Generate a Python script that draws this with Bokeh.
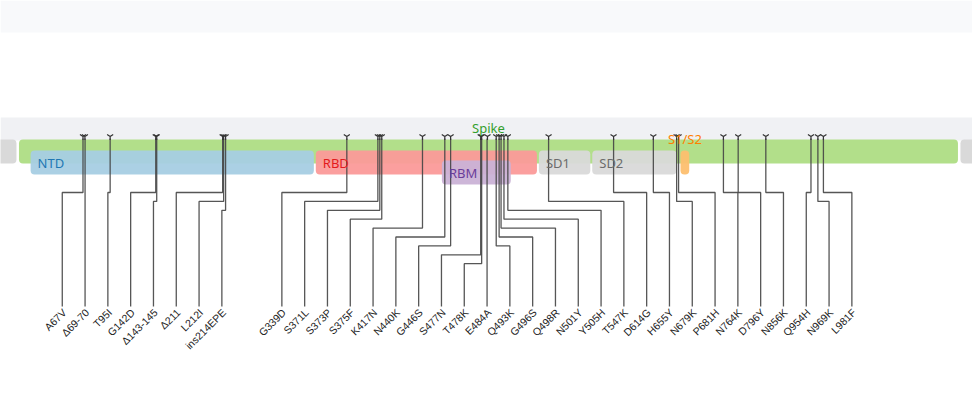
import numpy as np
from bokeh.plotting import figure
from bokeh.models import Range1d
from bokeh.core.properties import value
from bokeh.embed import file_html
from bokeh.resources import INLINE

# ---------------- data ----------------
spike_length = 1273
mut_labels = ["A67V", "Δ69-70", "T95I", "G142D", "Δ143-145", "Δ211", "L212I", "ins214EPE",
              "G339D", "S371L", "S373P", "S375F", "K417N", "N440K", "G446S", "S477N", "T478K",
              "E484A", "Q493K", "G496S", "Q498R", "N501Y", "Y505H", "T547K", "D614G", "H655Y",
              "N679K", "P681H", "N764K", "D796Y", "N856K", "Q954H", "N969K", "L981F"]
mut_pos = [67, 69, 95, 142, 143, 211, 212, 214,
           339, 371, 373, 375, 417, 440, 446, 477, 478,
           484, 493, 496, 498, 501, 505, 547, 614, 655,
           679, 681, 764, 796, 856, 954, 969, 981]
domain_names = ["NTD", "RBD", "RBM", "SD1", "SD2", "S1/S2"]
domain_start = [13, 307, 437, 537, 592, 683]
domain_end = [305, 535, 508, 590, 679, 692]
domain_fill = ["#a6cee3", "#fb9a99", "#cab2d6", "#d9d9d9", "#d9d9d9", "#fdbf6f"]
domain_text = ["#1f78b4", "#e31a1c", "#6a3d9a", "#6b6b6b", "#6b6b6b", "#ff7f00"]

# ---------------- scale (S2 drawn compressed) ----------------
S1_LINEAR_END = 694
S2_COMPRESS = 0.475
PX_PER_UNIT = 0.97
W, H = 972, 412


def track_pos(aa):
    aa = np.asarray(aa, dtype=float)
    return np.where(aa <= S1_LINEAR_END, aa,
                    S1_LINEAR_END + (aa - S1_LINEAR_END) * S2_COMPRESS)


x_start = -17.5 / PX_PER_UNIT
x_end = x_start + W / PX_PER_UNIT
px = 1.0 / PX_PER_UNIT  # one screen pixel in track units

# vertical layout (screen-like units, top = 0)
BAND_TOP, BAND_BOT = 117, 140
GENE_TOP, GENE_BOT = 139, 163
DOM_TOP, DOM_BOT = 150, 174
ROW_SHIFT = 10
ELBOW0, ELBOW_STEP = 192, 8.9
LINE_END = 306
LABEL_Y = 310
LABEL_GAP = 22.8 * px       # spacing of neighbouring labels
GROUP_GAP = 60 * px         # spacing between well separated groups
GROUP_BREAK = 100 * px      # marker distance that starts a new group


def place_labels(ideal, gaps):
    """least-squares placement with minimum gaps (isotonic regression / PAV)."""
    c = np.concatenate([[0.0], np.cumsum(gaps)])
    z = ideal - c
    blocks = []
    for i, v in enumerate(z):
        blocks.append([v, 1, [i]])
        while len(blocks) > 1 and blocks[-2][0] / blocks[-2][1] > blocks[-1][0] / blocks[-1][1]:
            b = blocks.pop()
            blocks[-1][0] += b[0]
            blocks[-1][1] += b[1]
            blocks[-1][2] += b[2]
    y = np.empty(len(z))
    for s, cnt, mem in blocks:
        y[mem] = s / cnt
    return y + c


marker_u = track_pos(mut_pos)
n = len(mut_pos)
gaps = np.where(np.diff(marker_u) > GROUP_BREAK, GROUP_GAP, LABEL_GAP)
label_u = place_labels(marker_u, gaps)
shift = label_u - marker_u
direction = np.where(np.abs(shift) < 1.5 * px, 0, np.sign(shift)).astype(int)

# elbow levels so that leader lines do not cross
levels = np.zeros(n, dtype=int)
for j in range(n):
    if direction[j] < 0:
        lv = 0
        for i in range(j):
            if direction[i] < 0 and (label_u[i] <= label_u[j] <= marker_u[i]
                                     or label_u[j] <= marker_u[i] <= marker_u[j]):
                lv = max(lv, levels[i] + 1)
        levels[j] = lv
for j in reversed(range(n)):
    if direction[j] > 0:
        lv = 0
        for i in range(j + 1, n):
            if direction[i] > 0 and (marker_u[i] <= label_u[j] <= label_u[i]
                                     or marker_u[j] <= marker_u[i] <= label_u[j]):
                lv = max(lv, levels[i] + 1)
        levels[j] = lv

xs, ys = [], []
for m, l, d, lev in zip(marker_u, label_u, direction, levels):
    if d == 0:
        xs.append([l, l])
        ys.append([GENE_TOP - 1, LINE_END])
    else:
        yy = ELBOW0 + ELBOW_STEP * lev
        xs.append([m, m, l, l])
        ys.append([GENE_TOP - 1, yy, yy, LINE_END])

# ---------------- figure ----------------
p = figure(width=W, height=H, output_backend="svg", toolbar_location=None,
           x_range=Range1d(x_start, x_end), y_range=Range1d(H, 0),
           min_border=0, outline_line_color=None, background_fill_color="white")
p.axis.visible = False
p.grid.visible = False

# backgrounds
p.quad(left=x_start, right=x_end, top=0, bottom=32, fill_color="#f8f9fb", line_color=None)
p.quad(left=x_start, right=x_end, top=BAND_TOP, bottom=BAND_BOT, fill_color="#f0f1f4", line_color=None)

# neighbouring genes and spike
s0, s1 = float(track_pos(1)), float(track_pos(spike_length))
p.quad(left=[x_start - 20, s1 + 2.5 * px], right=[s0 - 2.5 * px, x_end + 20],
       top=GENE_TOP, bottom=GENE_BOT, fill_color="#d9d9d9", line_color=None, border_radius=4)
p.quad(left=s0, right=s1, top=GENE_TOP, bottom=GENE_BOT, fill_color="#b2df8a",
       line_color=None, border_radius=4)

# domains
d_left = track_pos(domain_start)
d_right = track_pos(domain_end)
rows = []
for k in range(len(domain_names)):
    r = 0
    for q in range(k):
        if rows[q] == 0 and d_left[k] < d_right[q] and d_right[k] > d_left[q]:
            r = 1
    rows.append(r)
rows = np.array(rows)
tops = DOM_TOP + rows * ROW_SHIFT
bots = DOM_BOT + rows * ROW_SHIFT
p.quad(left=d_left, right=d_right, top=tops, bottom=bots, fill_color=domain_fill,
       line_color=None, border_radius=4, fill_alpha=0.95)

# leader lines
p.multi_line(xs=xs, ys=ys, line_color="#444444", line_width=1.3, line_alpha=0.9)
p.scatter(x=marker_u, y=np.full(n, GENE_TOP - 3), marker="y", size=7,
          line_color="#333333", line_width=1.2)

# domain labels
wide = (d_right - d_left) / px > 30
p.text(x=d_left[wide], y=((tops + bots) / 2)[wide], text=[t for t, w_ in zip(domain_names, wide) if w_],
       text_color=[c for c, w_ in zip(domain_text, wide) if w_], x_offset=7,
       text_align="left", text_baseline="middle", text_font=value("Noto Sans"),
       text_font_size="13px")
narrow = ~wide
p.text(x=((d_left + d_right) / 2)[narrow], y=np.full(narrow.sum(), GENE_TOP - 0.5),
       text=[t for t, w_ in zip(domain_names, narrow) if w_],
       text_color=[c for c, w_ in zip(domain_text, narrow) if w_],
       text_align="center", text_baseline="middle", text_font=value("Noto Sans"),
       text_font_size="13px")
p.text(x=[(s0 + s1) / 2], y=[127.5], text=["Spike"], text_color="#33a02c",
       text_align="center", text_baseline="middle", text_font=value("Noto Sans"),
       text_font_size="13px")

# mutation labels
p.text(x=label_u, y=np.full(n, LABEL_Y), text=mut_labels, angle=np.pi / 4,
       x_offset=2, text_align="right", text_baseline="middle",
       text_font=value("Liberation Sans"), text_font_size="10.5px", text_color="#222222")

open("out.html", "w").write(file_html(p, INLINE))
